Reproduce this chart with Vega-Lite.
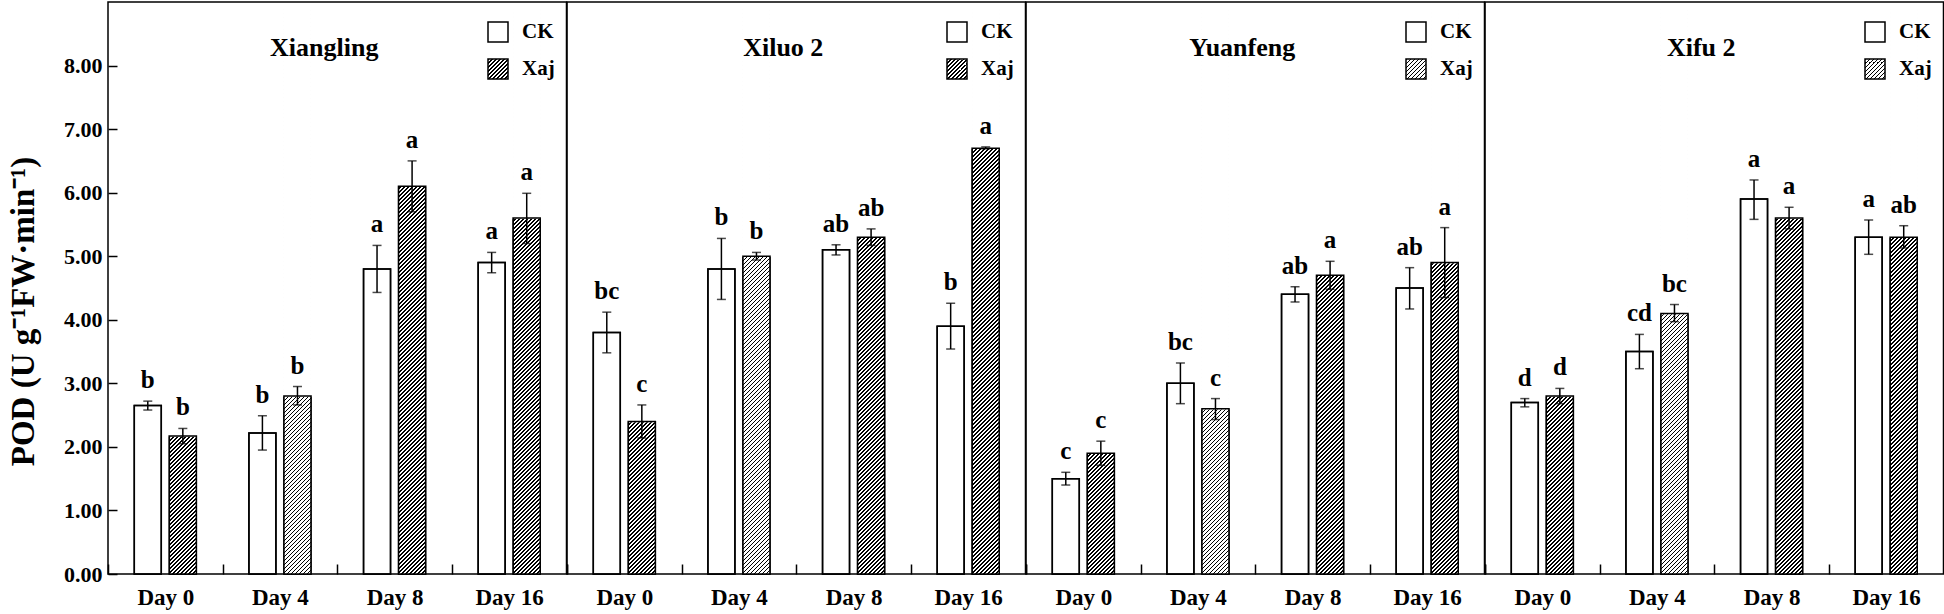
{
"$schema": "https://vega.github.io/schema/vega-lite/v6.json",
"background": "white",
"padding": {"left": 6, "top": 1, "right": 0, "bottom": 0},
"params": [
{"name": "hatchLeg", "value": {"gradient": "linear", "x1": 0, "y1": 0, "x2": 1, "y2": 1, "stops": [{"offset":0,"color":"#000"},{"offset":0.04,"color":"#000"},{"offset":0.04,"color":"#fff"},{"offset":0.1,"color":"#fff"},{"offset":0.1,"color":"#000"},{"offset":0.14,"color":"#000"},{"offset":0.14,"color":"#fff"},{"offset":0.2,"color":"#fff"},{"offset":0.2,"color":"#000"},{"offset":0.24,"color":"#000"},{"offset":0.24,"color":"#fff"},{"offset":0.3,"color":"#fff"},{"offset":0.3,"color":"#000"},{"offset":0.34,"color":"#000"},{"offset":0.34,"color":"#fff"},{"offset":0.4,"color":"#fff"},{"offset":0.4,"color":"#000"},{"offset":0.44,"color":"#000"},{"offset":0.44,"color":"#fff"},{"offset":0.5,"color":"#fff"},{"offset":0.5,"color":"#000"},{"offset":0.54,"color":"#000"},{"offset":0.54,"color":"#fff"},{"offset":0.6,"color":"#fff"},{"offset":0.6,"color":"#000"},{"offset":0.64,"color":"#000"},{"offset":0.64,"color":"#fff"},{"offset":0.7,"color":"#fff"},{"offset":0.7,"color":"#000"},{"offset":0.74,"color":"#000"},{"offset":0.74,"color":"#fff"},{"offset":0.8,"color":"#fff"},{"offset":0.8,"color":"#000"},{"offset":0.84,"color":"#000"},{"offset":0.84,"color":"#fff"},{"offset":0.9,"color":"#fff"},{"offset":0.9,"color":"#000"},{"offset":0.94,"color":"#000"},{"offset":0.94,"color":"#fff"},{"offset":1,"color":"#fff"}]}},
{"name": "hatch", "value": {"gradient": "linear", "x1": 0, "y1": 0, "x2": 0.06733, "y2": 1.4111, "stops": [
{"offset":0.00,"color":"#000"},{"offset":0.002,"color":"#000"},{"offset":0.002,"color":"#fff"},{"offset":0.005,"color":"#fff"},{"offset":0.005,"color":"#000"},{"offset":0.007,"color":"#000"},{"offset":0.007,"color":"#fff"},{"offset":0.01,"color":"#fff"},
{"offset":0.01,"color":"#000"},{"offset":0.012,"color":"#000"},{"offset":0.012,"color":"#fff"},{"offset":0.015,"color":"#fff"},{"offset":0.015,"color":"#000"},{"offset":0.017,"color":"#000"},{"offset":0.017,"color":"#fff"},{"offset":0.02,"color":"#fff"},
{"offset":0.02,"color":"#000"},{"offset":0.022,"color":"#000"},{"offset":0.022,"color":"#fff"},{"offset":0.025,"color":"#fff"},{"offset":0.025,"color":"#000"},{"offset":0.027,"color":"#000"},{"offset":0.027,"color":"#fff"},{"offset":0.03,"color":"#fff"},
{"offset":0.03,"color":"#000"},{"offset":0.032,"color":"#000"},{"offset":0.032,"color":"#fff"},{"offset":0.035,"color":"#fff"},{"offset":0.035,"color":"#000"},{"offset":0.037,"color":"#000"},{"offset":0.037,"color":"#fff"},{"offset":0.04,"color":"#fff"},
{"offset":0.04,"color":"#000"},{"offset":0.042,"color":"#000"},{"offset":0.042,"color":"#fff"},{"offset":0.045,"color":"#fff"},{"offset":0.045,"color":"#000"},{"offset":0.047,"color":"#000"},{"offset":0.047,"color":"#fff"},{"offset":0.05,"color":"#fff"},
{"offset":0.05,"color":"#000"},{"offset":0.052,"color":"#000"},{"offset":0.052,"color":"#fff"},{"offset":0.055,"color":"#fff"},{"offset":0.055,"color":"#000"},{"offset":0.057,"color":"#000"},{"offset":0.057,"color":"#fff"},{"offset":0.06,"color":"#fff"},
{"offset":0.06,"color":"#000"},{"offset":0.062,"color":"#000"},{"offset":0.062,"color":"#fff"},{"offset":0.065,"color":"#fff"},{"offset":0.065,"color":"#000"},{"offset":0.067,"color":"#000"},{"offset":0.067,"color":"#fff"},{"offset":0.07,"color":"#fff"},
{"offset":0.07,"color":"#000"},{"offset":0.072,"color":"#000"},{"offset":0.072,"color":"#fff"},{"offset":0.075,"color":"#fff"},{"offset":0.075,"color":"#000"},{"offset":0.077,"color":"#000"},{"offset":0.077,"color":"#fff"},{"offset":0.08,"color":"#fff"},
{"offset":0.08,"color":"#000"},{"offset":0.082,"color":"#000"},{"offset":0.082,"color":"#fff"},{"offset":0.085,"color":"#fff"},{"offset":0.085,"color":"#000"},{"offset":0.087,"color":"#000"},{"offset":0.087,"color":"#fff"},{"offset":0.09,"color":"#fff"},
{"offset":0.09,"color":"#000"},{"offset":0.092,"color":"#000"},{"offset":0.092,"color":"#fff"},{"offset":0.095,"color":"#fff"},{"offset":0.095,"color":"#000"},{"offset":0.097,"color":"#000"},{"offset":0.097,"color":"#fff"},{"offset":0.10,"color":"#fff"},
{"offset":0.10,"color":"#000"},{"offset":0.102,"color":"#000"},{"offset":0.102,"color":"#fff"},{"offset":0.105,"color":"#fff"},{"offset":0.105,"color":"#000"},{"offset":0.107,"color":"#000"},{"offset":0.107,"color":"#fff"},{"offset":0.11,"color":"#fff"},
{"offset":0.11,"color":"#000"},{"offset":0.112,"color":"#000"},{"offset":0.112,"color":"#fff"},{"offset":0.115,"color":"#fff"},{"offset":0.115,"color":"#000"},{"offset":0.117,"color":"#000"},{"offset":0.117,"color":"#fff"},{"offset":0.12,"color":"#fff"},
{"offset":0.12,"color":"#000"},{"offset":0.122,"color":"#000"},{"offset":0.122,"color":"#fff"},{"offset":0.125,"color":"#fff"},{"offset":0.125,"color":"#000"},{"offset":0.127,"color":"#000"},{"offset":0.127,"color":"#fff"},{"offset":0.13,"color":"#fff"},
{"offset":0.13,"color":"#000"},{"offset":0.132,"color":"#000"},{"offset":0.132,"color":"#fff"},{"offset":0.135,"color":"#fff"},{"offset":0.135,"color":"#000"},{"offset":0.137,"color":"#000"},{"offset":0.137,"color":"#fff"},{"offset":0.14,"color":"#fff"},
{"offset":0.14,"color":"#000"},{"offset":0.142,"color":"#000"},{"offset":0.142,"color":"#fff"},{"offset":0.145,"color":"#fff"},{"offset":0.145,"color":"#000"},{"offset":0.147,"color":"#000"},{"offset":0.147,"color":"#fff"},{"offset":0.15,"color":"#fff"},
{"offset":0.15,"color":"#000"},{"offset":0.152,"color":"#000"},{"offset":0.152,"color":"#fff"},{"offset":0.155,"color":"#fff"},{"offset":0.155,"color":"#000"},{"offset":0.157,"color":"#000"},{"offset":0.157,"color":"#fff"},{"offset":0.16,"color":"#fff"},
{"offset":0.16,"color":"#000"},{"offset":0.162,"color":"#000"},{"offset":0.162,"color":"#fff"},{"offset":0.165,"color":"#fff"},{"offset":0.165,"color":"#000"},{"offset":0.167,"color":"#000"},{"offset":0.167,"color":"#fff"},{"offset":0.17,"color":"#fff"},
{"offset":0.17,"color":"#000"},{"offset":0.172,"color":"#000"},{"offset":0.172,"color":"#fff"},{"offset":0.175,"color":"#fff"},{"offset":0.175,"color":"#000"},{"offset":0.177,"color":"#000"},{"offset":0.177,"color":"#fff"},{"offset":0.18,"color":"#fff"},
{"offset":0.18,"color":"#000"},{"offset":0.182,"color":"#000"},{"offset":0.182,"color":"#fff"},{"offset":0.185,"color":"#fff"},{"offset":0.185,"color":"#000"},{"offset":0.187,"color":"#000"},{"offset":0.187,"color":"#fff"},{"offset":0.19,"color":"#fff"},
{"offset":0.19,"color":"#000"},{"offset":0.192,"color":"#000"},{"offset":0.192,"color":"#fff"},{"offset":0.195,"color":"#fff"},{"offset":0.195,"color":"#000"},{"offset":0.197,"color":"#000"},{"offset":0.197,"color":"#fff"},{"offset":0.20,"color":"#fff"},
{"offset":0.20,"color":"#000"},{"offset":0.202,"color":"#000"},{"offset":0.202,"color":"#fff"},{"offset":0.205,"color":"#fff"},{"offset":0.205,"color":"#000"},{"offset":0.207,"color":"#000"},{"offset":0.207,"color":"#fff"},{"offset":0.21,"color":"#fff"},
{"offset":0.21,"color":"#000"},{"offset":0.212,"color":"#000"},{"offset":0.212,"color":"#fff"},{"offset":0.215,"color":"#fff"},{"offset":0.215,"color":"#000"},{"offset":0.217,"color":"#000"},{"offset":0.217,"color":"#fff"},{"offset":0.22,"color":"#fff"},
{"offset":0.22,"color":"#000"},{"offset":0.222,"color":"#000"},{"offset":0.222,"color":"#fff"},{"offset":0.225,"color":"#fff"},{"offset":0.225,"color":"#000"},{"offset":0.227,"color":"#000"},{"offset":0.227,"color":"#fff"},{"offset":0.23,"color":"#fff"},
{"offset":0.23,"color":"#000"},{"offset":0.232,"color":"#000"},{"offset":0.232,"color":"#fff"},{"offset":0.235,"color":"#fff"},{"offset":0.235,"color":"#000"},{"offset":0.237,"color":"#000"},{"offset":0.237,"color":"#fff"},{"offset":0.24,"color":"#fff"},
{"offset":0.24,"color":"#000"},{"offset":0.242,"color":"#000"},{"offset":0.242,"color":"#fff"},{"offset":0.245,"color":"#fff"},{"offset":0.245,"color":"#000"},{"offset":0.247,"color":"#000"},{"offset":0.247,"color":"#fff"},{"offset":0.25,"color":"#fff"},
{"offset":0.25,"color":"#000"},{"offset":0.252,"color":"#000"},{"offset":0.252,"color":"#fff"},{"offset":0.255,"color":"#fff"},{"offset":0.255,"color":"#000"},{"offset":0.257,"color":"#000"},{"offset":0.257,"color":"#fff"},{"offset":0.26,"color":"#fff"},
{"offset":0.26,"color":"#000"},{"offset":0.262,"color":"#000"},{"offset":0.262,"color":"#fff"},{"offset":0.265,"color":"#fff"},{"offset":0.265,"color":"#000"},{"offset":0.267,"color":"#000"},{"offset":0.267,"color":"#fff"},{"offset":0.27,"color":"#fff"},
{"offset":0.27,"color":"#000"},{"offset":0.272,"color":"#000"},{"offset":0.272,"color":"#fff"},{"offset":0.275,"color":"#fff"},{"offset":0.275,"color":"#000"},{"offset":0.277,"color":"#000"},{"offset":0.277,"color":"#fff"},{"offset":0.28,"color":"#fff"},
{"offset":0.28,"color":"#000"},{"offset":0.282,"color":"#000"},{"offset":0.282,"color":"#fff"},{"offset":0.285,"color":"#fff"},{"offset":0.285,"color":"#000"},{"offset":0.287,"color":"#000"},{"offset":0.287,"color":"#fff"},{"offset":0.29,"color":"#fff"},
{"offset":0.29,"color":"#000"},{"offset":0.292,"color":"#000"},{"offset":0.292,"color":"#fff"},{"offset":0.295,"color":"#fff"},{"offset":0.295,"color":"#000"},{"offset":0.297,"color":"#000"},{"offset":0.297,"color":"#fff"},{"offset":0.30,"color":"#fff"},
{"offset":0.30,"color":"#000"},{"offset":0.302,"color":"#000"},{"offset":0.302,"color":"#fff"},{"offset":0.305,"color":"#fff"},{"offset":0.305,"color":"#000"},{"offset":0.307,"color":"#000"},{"offset":0.307,"color":"#fff"},{"offset":0.31,"color":"#fff"},
{"offset":0.31,"color":"#000"},{"offset":0.312,"color":"#000"},{"offset":0.312,"color":"#fff"},{"offset":0.315,"color":"#fff"},{"offset":0.315,"color":"#000"},{"offset":0.317,"color":"#000"},{"offset":0.317,"color":"#fff"},{"offset":0.32,"color":"#fff"},
{"offset":0.32,"color":"#000"},{"offset":0.322,"color":"#000"},{"offset":0.322,"color":"#fff"},{"offset":0.325,"color":"#fff"},{"offset":0.325,"color":"#000"},{"offset":0.327,"color":"#000"},{"offset":0.327,"color":"#fff"},{"offset":0.33,"color":"#fff"},
{"offset":0.33,"color":"#000"},{"offset":0.332,"color":"#000"},{"offset":0.332,"color":"#fff"},{"offset":0.335,"color":"#fff"},{"offset":0.335,"color":"#000"},{"offset":0.337,"color":"#000"},{"offset":0.337,"color":"#fff"},{"offset":0.34,"color":"#fff"},
{"offset":0.34,"color":"#000"},{"offset":0.342,"color":"#000"},{"offset":0.342,"color":"#fff"},{"offset":0.345,"color":"#fff"},{"offset":0.345,"color":"#000"},{"offset":0.347,"color":"#000"},{"offset":0.347,"color":"#fff"},{"offset":0.35,"color":"#fff"},
{"offset":0.35,"color":"#000"},{"offset":0.352,"color":"#000"},{"offset":0.352,"color":"#fff"},{"offset":0.355,"color":"#fff"},{"offset":0.355,"color":"#000"},{"offset":0.357,"color":"#000"},{"offset":0.357,"color":"#fff"},{"offset":0.36,"color":"#fff"},
{"offset":0.36,"color":"#000"},{"offset":0.362,"color":"#000"},{"offset":0.362,"color":"#fff"},{"offset":0.365,"color":"#fff"},{"offset":0.365,"color":"#000"},{"offset":0.367,"color":"#000"},{"offset":0.367,"color":"#fff"},{"offset":0.37,"color":"#fff"},
{"offset":0.37,"color":"#000"},{"offset":0.372,"color":"#000"},{"offset":0.372,"color":"#fff"},{"offset":0.375,"color":"#fff"},{"offset":0.375,"color":"#000"},{"offset":0.377,"color":"#000"},{"offset":0.377,"color":"#fff"},{"offset":0.38,"color":"#fff"},
{"offset":0.38,"color":"#000"},{"offset":0.382,"color":"#000"},{"offset":0.382,"color":"#fff"},{"offset":0.385,"color":"#fff"},{"offset":0.385,"color":"#000"},{"offset":0.387,"color":"#000"},{"offset":0.387,"color":"#fff"},{"offset":0.39,"color":"#fff"},
{"offset":0.39,"color":"#000"},{"offset":0.392,"color":"#000"},{"offset":0.392,"color":"#fff"},{"offset":0.395,"color":"#fff"},{"offset":0.395,"color":"#000"},{"offset":0.397,"color":"#000"},{"offset":0.397,"color":"#fff"},{"offset":0.40,"color":"#fff"},
{"offset":0.40,"color":"#000"},{"offset":0.402,"color":"#000"},{"offset":0.402,"color":"#fff"},{"offset":0.405,"color":"#fff"},{"offset":0.405,"color":"#000"},{"offset":0.407,"color":"#000"},{"offset":0.407,"color":"#fff"},{"offset":0.41,"color":"#fff"},
{"offset":0.41,"color":"#000"},{"offset":0.412,"color":"#000"},{"offset":0.412,"color":"#fff"},{"offset":0.415,"color":"#fff"},{"offset":0.415,"color":"#000"},{"offset":0.417,"color":"#000"},{"offset":0.417,"color":"#fff"},{"offset":0.42,"color":"#fff"},
{"offset":0.42,"color":"#000"},{"offset":0.422,"color":"#000"},{"offset":0.422,"color":"#fff"},{"offset":0.425,"color":"#fff"},{"offset":0.425,"color":"#000"},{"offset":0.427,"color":"#000"},{"offset":0.427,"color":"#fff"},{"offset":0.43,"color":"#fff"},
{"offset":0.43,"color":"#000"},{"offset":0.432,"color":"#000"},{"offset":0.432,"color":"#fff"},{"offset":0.435,"color":"#fff"},{"offset":0.435,"color":"#000"},{"offset":0.437,"color":"#000"},{"offset":0.437,"color":"#fff"},{"offset":0.44,"color":"#fff"},
{"offset":0.44,"color":"#000"},{"offset":0.442,"color":"#000"},{"offset":0.442,"color":"#fff"},{"offset":0.445,"color":"#fff"},{"offset":0.445,"color":"#000"},{"offset":0.447,"color":"#000"},{"offset":0.447,"color":"#fff"},{"offset":0.45,"color":"#fff"},
{"offset":0.45,"color":"#000"},{"offset":0.452,"color":"#000"},{"offset":0.452,"color":"#fff"},{"offset":0.455,"color":"#fff"},{"offset":0.455,"color":"#000"},{"offset":0.457,"color":"#000"},{"offset":0.457,"color":"#fff"},{"offset":0.46,"color":"#fff"},
{"offset":0.46,"color":"#000"},{"offset":0.462,"color":"#000"},{"offset":0.462,"color":"#fff"},{"offset":0.465,"color":"#fff"},{"offset":0.465,"color":"#000"},{"offset":0.467,"color":"#000"},{"offset":0.467,"color":"#fff"},{"offset":0.47,"color":"#fff"},
{"offset":0.47,"color":"#000"},{"offset":0.472,"color":"#000"},{"offset":0.472,"color":"#fff"},{"offset":0.475,"color":"#fff"},{"offset":0.475,"color":"#000"},{"offset":0.477,"color":"#000"},{"offset":0.477,"color":"#fff"},{"offset":0.48,"color":"#fff"},
{"offset":0.48,"color":"#000"},{"offset":0.482,"color":"#000"},{"offset":0.482,"color":"#fff"},{"offset":0.485,"color":"#fff"},{"offset":0.485,"color":"#000"},{"offset":0.487,"color":"#000"},{"offset":0.487,"color":"#fff"},{"offset":0.49,"color":"#fff"},
{"offset":0.49,"color":"#000"},{"offset":0.492,"color":"#000"},{"offset":0.492,"color":"#fff"},{"offset":0.495,"color":"#fff"},{"offset":0.495,"color":"#000"},{"offset":0.497,"color":"#000"},{"offset":0.497,"color":"#fff"},{"offset":0.50,"color":"#fff"},
{"offset":0.50,"color":"#000"},{"offset":0.502,"color":"#000"},{"offset":0.502,"color":"#fff"},{"offset":0.505,"color":"#fff"},{"offset":0.505,"color":"#000"},{"offset":0.507,"color":"#000"},{"offset":0.507,"color":"#fff"},{"offset":0.51,"color":"#fff"},
{"offset":0.51,"color":"#000"},{"offset":0.512,"color":"#000"},{"offset":0.512,"color":"#fff"},{"offset":0.515,"color":"#fff"},{"offset":0.515,"color":"#000"},{"offset":0.517,"color":"#000"},{"offset":0.517,"color":"#fff"},{"offset":0.52,"color":"#fff"},
{"offset":0.52,"color":"#000"},{"offset":0.522,"color":"#000"},{"offset":0.522,"color":"#fff"},{"offset":0.525,"color":"#fff"},{"offset":0.525,"color":"#000"},{"offset":0.527,"color":"#000"},{"offset":0.527,"color":"#fff"},{"offset":0.53,"color":"#fff"},
{"offset":0.53,"color":"#000"},{"offset":0.532,"color":"#000"},{"offset":0.532,"color":"#fff"},{"offset":0.535,"color":"#fff"},{"offset":0.535,"color":"#000"},{"offset":0.537,"color":"#000"},{"offset":0.537,"color":"#fff"},{"offset":0.54,"color":"#fff"},
{"offset":0.54,"color":"#000"},{"offset":0.542,"color":"#000"},{"offset":0.542,"color":"#fff"},{"offset":0.545,"color":"#fff"},{"offset":0.545,"color":"#000"},{"offset":0.547,"color":"#000"},{"offset":0.547,"color":"#fff"},{"offset":0.55,"color":"#fff"},
{"offset":0.55,"color":"#000"},{"offset":0.552,"color":"#000"},{"offset":0.552,"color":"#fff"},{"offset":0.555,"color":"#fff"},{"offset":0.555,"color":"#000"},{"offset":0.557,"color":"#000"},{"offset":0.557,"color":"#fff"},{"offset":0.56,"color":"#fff"},
{"offset":0.56,"color":"#000"},{"offset":0.562,"color":"#000"},{"offset":0.562,"color":"#fff"},{"offset":0.565,"color":"#fff"},{"offset":0.565,"color":"#000"},{"offset":0.567,"color":"#000"},{"offset":0.567,"color":"#fff"},{"offset":0.57,"color":"#fff"},
{"offset":0.57,"color":"#000"},{"offset":0.572,"color":"#000"},{"offset":0.572,"color":"#fff"},{"offset":0.575,"color":"#fff"},{"offset":0.575,"color":"#000"},{"offset":0.577,"color":"#000"},{"offset":0.577,"color":"#fff"},{"offset":0.58,"color":"#fff"},
{"offset":0.58,"color":"#000"},{"offset":0.582,"color":"#000"},{"offset":0.582,"color":"#fff"},{"offset":0.585,"color":"#fff"},{"offset":0.585,"color":"#000"},{"offset":0.587,"color":"#000"},{"offset":0.587,"color":"#fff"},{"offset":0.59,"color":"#fff"},
{"offset":0.59,"color":"#000"},{"offset":0.592,"color":"#000"},{"offset":0.592,"color":"#fff"},{"offset":0.595,"color":"#fff"},{"offset":0.595,"color":"#000"},{"offset":0.597,"color":"#000"},{"offset":0.597,"color":"#fff"},{"offset":0.60,"color":"#fff"},
{"offset":0.60,"color":"#000"},{"offset":0.602,"color":"#000"},{"offset":0.602,"color":"#fff"},{"offset":0.605,"color":"#fff"},{"offset":0.605,"color":"#000"},{"offset":0.607,"color":"#000"},{"offset":0.607,"color":"#fff"},{"offset":0.61,"color":"#fff"},
{"offset":0.61,"color":"#000"},{"offset":0.612,"color":"#000"},{"offset":0.612,"color":"#fff"},{"offset":0.615,"color":"#fff"},{"offset":0.615,"color":"#000"},{"offset":0.617,"color":"#000"},{"offset":0.617,"color":"#fff"},{"offset":0.62,"color":"#fff"},
{"offset":0.62,"color":"#000"},{"offset":0.622,"color":"#000"},{"offset":0.622,"color":"#fff"},{"offset":0.625,"color":"#fff"},{"offset":0.625,"color":"#000"},{"offset":0.627,"color":"#000"},{"offset":0.627,"color":"#fff"},{"offset":0.63,"color":"#fff"},
{"offset":0.63,"color":"#000"},{"offset":0.632,"color":"#000"},{"offset":0.632,"color":"#fff"},{"offset":0.635,"color":"#fff"},{"offset":0.635,"color":"#000"},{"offset":0.637,"color":"#000"},{"offset":0.637,"color":"#fff"},{"offset":0.64,"color":"#fff"},
{"offset":0.64,"color":"#000"},{"offset":0.642,"color":"#000"},{"offset":0.642,"color":"#fff"},{"offset":0.645,"color":"#fff"},{"offset":0.645,"color":"#000"},{"offset":0.647,"color":"#000"},{"offset":0.647,"color":"#fff"},{"offset":0.65,"color":"#fff"},
{"offset":0.65,"color":"#000"},{"offset":0.652,"color":"#000"},{"offset":0.652,"color":"#fff"},{"offset":0.655,"color":"#fff"},{"offset":0.655,"color":"#000"},{"offset":0.657,"color":"#000"},{"offset":0.657,"color":"#fff"},{"offset":0.66,"color":"#fff"},
{"offset":0.66,"color":"#000"},{"offset":0.662,"color":"#000"},{"offset":0.662,"color":"#fff"},{"offset":0.665,"color":"#fff"},{"offset":0.665,"color":"#000"},{"offset":0.667,"color":"#000"},{"offset":0.667,"color":"#fff"},{"offset":0.67,"color":"#fff"},
{"offset":0.67,"color":"#000"},{"offset":0.672,"color":"#000"},{"offset":0.672,"color":"#fff"},{"offset":0.675,"color":"#fff"},{"offset":0.675,"color":"#000"},{"offset":0.677,"color":"#000"},{"offset":0.677,"color":"#fff"},{"offset":0.68,"color":"#fff"},
{"offset":0.68,"color":"#000"},{"offset":0.682,"color":"#000"},{"offset":0.682,"color":"#fff"},{"offset":0.685,"color":"#fff"},{"offset":0.685,"color":"#000"},{"offset":0.687,"color":"#000"},{"offset":0.687,"color":"#fff"},{"offset":0.69,"color":"#fff"},
{"offset":0.69,"color":"#000"},{"offset":0.692,"color":"#000"},{"offset":0.692,"color":"#fff"},{"offset":0.695,"color":"#fff"},{"offset":0.695,"color":"#000"},{"offset":0.697,"color":"#000"},{"offset":0.697,"color":"#fff"},{"offset":0.70,"color":"#fff"},
{"offset":0.70,"color":"#000"},{"offset":0.702,"color":"#000"},{"offset":0.702,"color":"#fff"},{"offset":0.705,"color":"#fff"},{"offset":0.705,"color":"#000"},{"offset":0.707,"color":"#000"},{"offset":0.707,"color":"#fff"},{"offset":0.71,"color":"#fff"},
{"offset":0.71,"color":"#000"},{"offset":0.712,"color":"#000"},{"offset":0.712,"color":"#fff"},{"offset":0.715,"color":"#fff"},{"offset":0.715,"color":"#000"},{"offset":0.717,"color":"#000"},{"offset":0.717,"color":"#fff"},{"offset":0.72,"color":"#fff"},
{"offset":0.72,"color":"#000"},{"offset":0.722,"color":"#000"},{"offset":0.722,"color":"#fff"},{"offset":0.725,"color":"#fff"},{"offset":0.725,"color":"#000"},{"offset":0.727,"color":"#000"},{"offset":0.727,"color":"#fff"},{"offset":0.73,"color":"#fff"},
{"offset":0.73,"color":"#000"},{"offset":0.732,"color":"#000"},{"offset":0.732,"color":"#fff"},{"offset":0.735,"color":"#fff"},{"offset":0.735,"color":"#000"},{"offset":0.737,"color":"#000"},{"offset":0.737,"color":"#fff"},{"offset":0.74,"color":"#fff"},
{"offset":0.74,"color":"#000"},{"offset":0.742,"color":"#000"},{"offset":0.742,"color":"#fff"},{"offset":0.745,"color":"#fff"},{"offset":0.745,"color":"#000"},{"offset":0.747,"color":"#000"},{"offset":0.747,"color":"#fff"},{"offset":0.75,"color":"#fff"}
]}}
],
"data": {"values": [
{"c":"Xiangling","d":"Day 0","t":"CK","v":2.65,"lo":2.58,"hi":2.72,"l":"b"},
{"c":"Xiangling","d":"Day 0","t":"Xaj","v":2.17,"lo":2.05,"hi":2.29,"l":"b"},
{"c":"Xiangling","d":"Day 4","t":"CK","v":2.22,"lo":1.95,"hi":2.49,"l":"b"},
{"c":"Xiangling","d":"Day 4","t":"Xaj","v":2.80,"lo":2.66,"hi":2.95,"l":"b"},
{"c":"Xiangling","d":"Day 8","t":"CK","v":4.80,"lo":4.43,"hi":5.17,"l":"a"},
{"c":"Xiangling","d":"Day 8","t":"Xaj","v":6.10,"lo":5.70,"hi":6.50,"l":"a"},
{"c":"Xiangling","d":"Day 16","t":"CK","v":4.90,"lo":4.74,"hi":5.06,"l":"a"},
{"c":"Xiangling","d":"Day 16","t":"Xaj","v":5.60,"lo":5.20,"hi":5.99,"l":"a"},
{"c":"Xiluo 2","d":"Day 0","t":"CK","v":3.80,"lo":3.48,"hi":4.12,"l":"bc"},
{"c":"Xiluo 2","d":"Day 0","t":"Xaj","v":2.40,"lo":2.14,"hi":2.66,"l":"c"},
{"c":"Xiluo 2","d":"Day 4","t":"CK","v":4.80,"lo":4.32,"hi":5.28,"l":"b"},
{"c":"Xiluo 2","d":"Day 4","t":"Xaj","v":5.00,"lo":4.94,"hi":5.06,"l":"b"},
{"c":"Xiluo 2","d":"Day 8","t":"CK","v":5.10,"lo":5.02,"hi":5.18,"l":"ab"},
{"c":"Xiluo 2","d":"Day 8","t":"Xaj","v":5.30,"lo":5.17,"hi":5.43,"l":"ab"},
{"c":"Xiluo 2","d":"Day 16","t":"CK","v":3.90,"lo":3.54,"hi":4.26,"l":"b"},
{"c":"Xiluo 2","d":"Day 16","t":"Xaj","v":6.70,"lo":6.69,"hi":6.72,"l":"a"},
{"c":"Yuanfeng","d":"Day 0","t":"CK","v":1.50,"lo":1.40,"hi":1.60,"l":"c"},
{"c":"Yuanfeng","d":"Day 0","t":"Xaj","v":1.90,"lo":1.71,"hi":2.09,"l":"c"},
{"c":"Yuanfeng","d":"Day 4","t":"CK","v":3.00,"lo":2.68,"hi":3.32,"l":"bc"},
{"c":"Yuanfeng","d":"Day 4","t":"Xaj","v":2.60,"lo":2.43,"hi":2.76,"l":"c"},
{"c":"Yuanfeng","d":"Day 8","t":"CK","v":4.40,"lo":4.28,"hi":4.52,"l":"ab"},
{"c":"Yuanfeng","d":"Day 8","t":"Xaj","v":4.70,"lo":4.48,"hi":4.92,"l":"a"},
{"c":"Yuanfeng","d":"Day 16","t":"CK","v":4.50,"lo":4.17,"hi":4.82,"l":"ab"},
{"c":"Yuanfeng","d":"Day 16","t":"Xaj","v":4.90,"lo":4.35,"hi":5.45,"l":"a"},
{"c":"Xifu 2","d":"Day 0","t":"CK","v":2.70,"lo":2.63,"hi":2.76,"l":"d"},
{"c":"Xifu 2","d":"Day 0","t":"Xaj","v":2.80,"lo":2.68,"hi":2.92,"l":"d"},
{"c":"Xifu 2","d":"Day 4","t":"CK","v":3.50,"lo":3.23,"hi":3.77,"l":"cd"},
{"c":"Xifu 2","d":"Day 4","t":"Xaj","v":4.10,"lo":3.97,"hi":4.24,"l":"bc"},
{"c":"Xifu 2","d":"Day 8","t":"CK","v":5.90,"lo":5.58,"hi":6.20,"l":"a"},
{"c":"Xifu 2","d":"Day 8","t":"Xaj","v":5.60,"lo":5.43,"hi":5.77,"l":"a"},
{"c":"Xifu 2","d":"Day 16","t":"CK","v":5.30,"lo":5.03,"hi":5.57,"l":"a"},
{"c":"Xifu 2","d":"Day 16","t":"Xaj","v":5.30,"lo":5.13,"hi":5.48,"l":"ab"}
]},
"spacing": 0,
"bounds": "flush",
"resolve": {"scale": {"x": "independent", "xOffset": "independent", "y": "independent", "fill": "independent"}, "legend": {"fill": "independent"}, "axis": {"x": "independent", "y": "independent"}},
"hconcat": [
{
"width": 458.5, "height": 572,
"transform": [{"filter": "datum.c === 'Xiangling'"}],
"layer": [
{"mark": {"type": "bar", "stroke": "#000", "strokeWidth": 1.5},
 "encoding": {
  "x": {"field": "d", "type": "nominal", "sort": ["Day 0","Day 4","Day 8","Day 16"], "scale": {"paddingInner": 0, "paddingOuter": 0}, "axis": {"title": null}},
  "xOffset": {"field": "t", "type": "nominal", "sort": ["CK","Xaj"], "scale": {"paddingInner": 0.23, "paddingOuter": 0.75}},
  "y": {"field": "v", "type": "quantitative", "stack": null, "scale": {"domain": [0, 9], "nice": false}, "axis": {"values": [0,1,2,3,4,5,6,7,8], "format": ".2f", "title": "POD (U g⁻¹FW·min⁻¹)", "titleY": 309}},
  "fill": {"field": "t", "type": "nominal", "scale": {"domain": ["CK","Xaj"], "range": [{"expr": "'#ffffff'"}, {"expr": "hatchLeg"}]}, "legend": {"title": " "}}
 }},
{"transform": [{"filter": "datum.t === 'Xaj'"}],
 "mark": {"type": "bar", "fill": {"expr": "hatch"}, "strokeWidth": 0},
 "encoding": {
  "x": {"field": "d", "type": "nominal", "sort": ["Day 0","Day 4","Day 8","Day 16"], "axis": {"title": null}},
  "xOffset": {"field": "t", "type": "nominal", "sort": ["CK","Xaj"]},
  "y": {"datum": 0, "type": "quantitative"}, "y2": {"datum": 8.9}}},
{"transform": [{"filter": "datum.t === 'Xaj'"}],
 "mark": {"type": "bar", "fill": "#ffffff", "stroke": "#ffffff", "strokeWidth": 1.5},
 "encoding": {
  "x": {"field": "d", "type": "nominal", "sort": ["Day 0","Day 4","Day 8","Day 16"], "axis": {"title": null}},
  "xOffset": {"field": "t", "type": "nominal", "sort": ["CK","Xaj"]},
  "y": {"field": "v", "type": "quantitative"}, "y2": {"datum": 8.9}}},
{"mark": {"type": "bar", "fill": "transparent", "stroke": "#000", "strokeWidth": 1.5},
 "encoding": {
  "x": {"field": "d", "type": "nominal", "sort": ["Day 0","Day 4","Day 8","Day 16"], "axis": {"title": null}},
  "xOffset": {"field": "t", "type": "nominal", "sort": ["CK","Xaj"]},
  "y": {"field": "v", "type": "quantitative", "stack": null}}},
{"mark": {"type": "rule", "color": "#000", "strokeWidth": 1.5},
 "encoding": {
  "x": {"field": "d", "type": "nominal", "sort": ["Day 0","Day 4","Day 8","Day 16"], "axis": {"title": null}},
  "xOffset": {"field": "t", "type": "nominal", "sort": ["CK","Xaj"]},
  "y": {"field": "lo", "type": "quantitative"}, "y2": {"field": "hi"}}},
{"mark": {"type": "tick", "orient": "horizontal", "size": 9, "thickness": 1.5, "color": "#000"},
 "encoding": {
  "x": {"field": "d", "type": "nominal", "sort": ["Day 0","Day 4","Day 8","Day 16"], "axis": {"title": null}},
  "xOffset": {"field": "t", "type": "nominal", "sort": ["CK","Xaj"]},
  "y": {"field": "lo", "type": "quantitative"}}},
{"mark": {"type": "tick", "orient": "horizontal", "size": 9, "thickness": 1.5, "color": "#000"},
 "encoding": {
  "x": {"field": "d", "type": "nominal", "sort": ["Day 0","Day 4","Day 8","Day 16"], "axis": {"title": null}},
  "xOffset": {"field": "t", "type": "nominal", "sort": ["CK","Xaj"]},
  "y": {"field": "hi", "type": "quantitative"}}},
{"mark": {"type": "text", "font": "Liberation Serif", "fontWeight": "bold", "fontSize": 25, "baseline": "alphabetic", "dy": -13, "color": "#000"},
 "encoding": {
  "x": {"field": "d", "type": "nominal", "sort": ["Day 0","Day 4","Day 8","Day 16"], "axis": {"title": null}},
  "xOffset": {"field": "t", "type": "nominal", "sort": ["CK","Xaj"]},
  "y": {"field": "hi", "type": "quantitative"}, "text": {"field": "l"}}},
{"transform": [{"aggregate": [{"op": "count", "as": "n"}], "groupby": ["c"]}],
 "mark": {"type": "text", "font": "Liberation Serif", "fontWeight": "bold", "fontSize": 26, "baseline": "middle", "dx": -13, "color": "#000"},
 "encoding": {"y": {"datum": 8.28, "type": "quantitative"}, "text": {"field": "c"}}}
]
},
{
"width": 458.5, "height": 572,
"transform": [{"filter": "datum.c === 'Xiluo 2'"}],
"layer": [
{"mark": {"type": "bar", "stroke": "#000", "strokeWidth": 1.5},
 "encoding": {
  "x": {"field": "d", "type": "nominal", "sort": ["Day 0","Day 4","Day 8","Day 16"], "scale": {"paddingInner": 0, "paddingOuter": 0}, "axis": {"title": null}},
  "xOffset": {"field": "t", "type": "nominal", "sort": ["CK","Xaj"], "scale": {"paddingInner": 0.23, "paddingOuter": 0.75}},
  "y": {"field": "v", "type": "quantitative", "stack": null, "scale": {"domain": [0, 9], "nice": false}, "axis": null},
  "fill": {"field": "t", "type": "nominal", "scale": {"domain": ["CK","Xaj"], "range": [{"expr": "'#ffffff'"}, {"expr": "hatchLeg"}]}, "legend": {"title": " "}}
 }},
{"transform": [{"filter": "datum.t === 'Xaj'"}],
 "mark": {"type": "bar", "fill": {"expr": "hatch"}, "strokeWidth": 0},
 "encoding": {
  "x": {"field": "d", "type": "nominal", "sort": ["Day 0","Day 4","Day 8","Day 16"], "axis": {"title": null}},
  "xOffset": {"field": "t", "type": "nominal", "sort": ["CK","Xaj"]},
  "y": {"datum": 0, "type": "quantitative", "axis": null}, "y2": {"datum": 8.9}}},
{"transform": [{"filter": "datum.t === 'Xaj'"}],
 "mark": {"type": "bar", "fill": "#ffffff", "stroke": "#ffffff", "strokeWidth": 1.5},
 "encoding": {
  "x": {"field": "d", "type": "nominal", "sort": ["Day 0","Day 4","Day 8","Day 16"], "axis": {"title": null}},
  "xOffset": {"field": "t", "type": "nominal", "sort": ["CK","Xaj"]},
  "y": {"field": "v", "type": "quantitative", "axis": null}, "y2": {"datum": 8.9}}},
{"mark": {"type": "bar", "fill": "transparent", "stroke": "#000", "strokeWidth": 1.5},
 "encoding": {
  "x": {"field": "d", "type": "nominal", "sort": ["Day 0","Day 4","Day 8","Day 16"], "axis": {"title": null}},
  "xOffset": {"field": "t", "type": "nominal", "sort": ["CK","Xaj"]},
  "y": {"field": "v", "type": "quantitative", "stack": null, "axis": null}}},
{"mark": {"type": "rule", "color": "#000", "strokeWidth": 1.5},
 "encoding": {
  "x": {"field": "d", "type": "nominal", "sort": ["Day 0","Day 4","Day 8","Day 16"], "axis": {"title": null}},
  "xOffset": {"field": "t", "type": "nominal", "sort": ["CK","Xaj"]},
  "y": {"field": "lo", "type": "quantitative", "axis": null}, "y2": {"field": "hi"}}},
{"mark": {"type": "tick", "orient": "horizontal", "size": 9, "thickness": 1.5, "color": "#000"},
 "encoding": {
  "x": {"field": "d", "type": "nominal", "sort": ["Day 0","Day 4","Day 8","Day 16"], "axis": {"title": null}},
  "xOffset": {"field": "t", "type": "nominal", "sort": ["CK","Xaj"]},
  "y": {"field": "lo", "type": "quantitative", "axis": null}}},
{"mark": {"type": "tick", "orient": "horizontal", "size": 9, "thickness": 1.5, "color": "#000"},
 "encoding": {
  "x": {"field": "d", "type": "nominal", "sort": ["Day 0","Day 4","Day 8","Day 16"], "axis": {"title": null}},
  "xOffset": {"field": "t", "type": "nominal", "sort": ["CK","Xaj"]},
  "y": {"field": "hi", "type": "quantitative", "axis": null}}},
{"mark": {"type": "text", "font": "Liberation Serif", "fontWeight": "bold", "fontSize": 25, "baseline": "alphabetic", "dy": -13, "color": "#000"},
 "encoding": {
  "x": {"field": "d", "type": "nominal", "sort": ["Day 0","Day 4","Day 8","Day 16"], "axis": {"title": null}},
  "xOffset": {"field": "t", "type": "nominal", "sort": ["CK","Xaj"]},
  "y": {"field": "hi", "type": "quantitative", "axis": null}, "text": {"field": "l"}}},
{"transform": [{"aggregate": [{"op": "count", "as": "n"}], "groupby": ["c"]}],
 "mark": {"type": "text", "font": "Liberation Serif", "fontWeight": "bold", "fontSize": 26, "baseline": "middle", "dx": -13, "color": "#000"},
 "encoding": {"y": {"datum": 8.28, "type": "quantitative", "axis": null}, "text": {"field": "c"}}}
]
},
{
"width": 458.5, "height": 572,
"transform": [{"filter": "datum.c === 'Yuanfeng'"}],
"layer": [
{"mark": {"type": "bar", "stroke": "#000", "strokeWidth": 1.5},
 "encoding": {
  "x": {"field": "d", "type": "nominal", "sort": ["Day 0","Day 4","Day 8","Day 16"], "scale": {"paddingInner": 0, "paddingOuter": 0}, "axis": {"title": null}},
  "xOffset": {"field": "t", "type": "nominal", "sort": ["CK","Xaj"], "scale": {"paddingInner": 0.23, "paddingOuter": 0.75}},
  "y": {"field": "v", "type": "quantitative", "stack": null, "scale": {"domain": [0, 9], "nice": false}, "axis": null},
  "fill": {"field": "t", "type": "nominal", "scale": {"domain": ["CK","Xaj"], "range": [{"expr": "'#ffffff'"}, {"expr": "hatchLeg"}]}, "legend": {"title": " "}}
 }},
{"transform": [{"filter": "datum.t === 'Xaj'"}],
 "mark": {"type": "bar", "fill": {"expr": "hatch"}, "strokeWidth": 0},
 "encoding": {
  "x": {"field": "d", "type": "nominal", "sort": ["Day 0","Day 4","Day 8","Day 16"], "axis": {"title": null}},
  "xOffset": {"field": "t", "type": "nominal", "sort": ["CK","Xaj"]},
  "y": {"datum": 0, "type": "quantitative", "axis": null}, "y2": {"datum": 8.9}}},
{"transform": [{"filter": "datum.t === 'Xaj'"}],
 "mark": {"type": "bar", "fill": "#ffffff", "stroke": "#ffffff", "strokeWidth": 1.5},
 "encoding": {
  "x": {"field": "d", "type": "nominal", "sort": ["Day 0","Day 4","Day 8","Day 16"], "axis": {"title": null}},
  "xOffset": {"field": "t", "type": "nominal", "sort": ["CK","Xaj"]},
  "y": {"field": "v", "type": "quantitative", "axis": null}, "y2": {"datum": 8.9}}},
{"mark": {"type": "bar", "fill": "transparent", "stroke": "#000", "strokeWidth": 1.5},
 "encoding": {
  "x": {"field": "d", "type": "nominal", "sort": ["Day 0","Day 4","Day 8","Day 16"], "axis": {"title": null}},
  "xOffset": {"field": "t", "type": "nominal", "sort": ["CK","Xaj"]},
  "y": {"field": "v", "type": "quantitative", "stack": null, "axis": null}}},
{"mark": {"type": "rule", "color": "#000", "strokeWidth": 1.5},
 "encoding": {
  "x": {"field": "d", "type": "nominal", "sort": ["Day 0","Day 4","Day 8","Day 16"], "axis": {"title": null}},
  "xOffset": {"field": "t", "type": "nominal", "sort": ["CK","Xaj"]},
  "y": {"field": "lo", "type": "quantitative", "axis": null}, "y2": {"field": "hi"}}},
{"mark": {"type": "tick", "orient": "horizontal", "size": 9, "thickness": 1.5, "color": "#000"},
 "encoding": {
  "x": {"field": "d", "type": "nominal", "sort": ["Day 0","Day 4","Day 8","Day 16"], "axis": {"title": null}},
  "xOffset": {"field": "t", "type": "nominal", "sort": ["CK","Xaj"]},
  "y": {"field": "lo", "type": "quantitative", "axis": null}}},
{"mark": {"type": "tick", "orient": "horizontal", "size": 9, "thickness": 1.5, "color": "#000"},
 "encoding": {
  "x": {"field": "d", "type": "nominal", "sort": ["Day 0","Day 4","Day 8","Day 16"], "axis": {"title": null}},
  "xOffset": {"field": "t", "type": "nominal", "sort": ["CK","Xaj"]},
  "y": {"field": "hi", "type": "quantitative", "axis": null}}},
{"mark": {"type": "text", "font": "Liberation Serif", "fontWeight": "bold", "fontSize": 25, "baseline": "alphabetic", "dy": -13, "color": "#000"},
 "encoding": {
  "x": {"field": "d", "type": "nominal", "sort": ["Day 0","Day 4","Day 8","Day 16"], "axis": {"title": null}},
  "xOffset": {"field": "t", "type": "nominal", "sort": ["CK","Xaj"]},
  "y": {"field": "hi", "type": "quantitative", "axis": null}, "text": {"field": "l"}}},
{"transform": [{"aggregate": [{"op": "count", "as": "n"}], "groupby": ["c"]}],
 "mark": {"type": "text", "font": "Liberation Serif", "fontWeight": "bold", "fontSize": 26, "baseline": "middle", "dx": -13, "color": "#000"},
 "encoding": {"y": {"datum": 8.28, "type": "quantitative", "axis": null}, "text": {"field": "c"}}}
]
},
{
"width": 458.5, "height": 572,
"transform": [{"filter": "datum.c === 'Xifu 2'"}],
"layer": [
{"mark": {"type": "bar", "stroke": "#000", "strokeWidth": 1.5},
 "encoding": {
  "x": {"field": "d", "type": "nominal", "sort": ["Day 0","Day 4","Day 8","Day 16"], "scale": {"paddingInner": 0, "paddingOuter": 0}, "axis": {"title": null}},
  "xOffset": {"field": "t", "type": "nominal", "sort": ["CK","Xaj"], "scale": {"paddingInner": 0.23, "paddingOuter": 0.75}},
  "y": {"field": "v", "type": "quantitative", "stack": null, "scale": {"domain": [0, 9], "nice": false}, "axis": null},
  "fill": {"field": "t", "type": "nominal", "scale": {"domain": ["CK","Xaj"], "range": [{"expr": "'#ffffff'"}, {"expr": "hatchLeg"}]}, "legend": {"title": " "}}
 }},
{"transform": [{"filter": "datum.t === 'Xaj'"}],
 "mark": {"type": "bar", "fill": {"expr": "hatch"}, "strokeWidth": 0},
 "encoding": {
  "x": {"field": "d", "type": "nominal", "sort": ["Day 0","Day 4","Day 8","Day 16"], "axis": {"title": null}},
  "xOffset": {"field": "t", "type": "nominal", "sort": ["CK","Xaj"]},
  "y": {"datum": 0, "type": "quantitative", "axis": null}, "y2": {"datum": 8.9}}},
{"transform": [{"filter": "datum.t === 'Xaj'"}],
 "mark": {"type": "bar", "fill": "#ffffff", "stroke": "#ffffff", "strokeWidth": 1.5},
 "encoding": {
  "x": {"field": "d", "type": "nominal", "sort": ["Day 0","Day 4","Day 8","Day 16"], "axis": {"title": null}},
  "xOffset": {"field": "t", "type": "nominal", "sort": ["CK","Xaj"]},
  "y": {"field": "v", "type": "quantitative", "axis": null}, "y2": {"datum": 8.9}}},
{"mark": {"type": "bar", "fill": "transparent", "stroke": "#000", "strokeWidth": 1.5},
 "encoding": {
  "x": {"field": "d", "type": "nominal", "sort": ["Day 0","Day 4","Day 8","Day 16"], "axis": {"title": null}},
  "xOffset": {"field": "t", "type": "nominal", "sort": ["CK","Xaj"]},
  "y": {"field": "v", "type": "quantitative", "stack": null, "axis": null}}},
{"mark": {"type": "rule", "color": "#000", "strokeWidth": 1.5},
 "encoding": {
  "x": {"field": "d", "type": "nominal", "sort": ["Day 0","Day 4","Day 8","Day 16"], "axis": {"title": null}},
  "xOffset": {"field": "t", "type": "nominal", "sort": ["CK","Xaj"]},
  "y": {"field": "lo", "type": "quantitative", "axis": null}, "y2": {"field": "hi"}}},
{"mark": {"type": "tick", "orient": "horizontal", "size": 9, "thickness": 1.5, "color": "#000"},
 "encoding": {
  "x": {"field": "d", "type": "nominal", "sort": ["Day 0","Day 4","Day 8","Day 16"], "axis": {"title": null}},
  "xOffset": {"field": "t", "type": "nominal", "sort": ["CK","Xaj"]},
  "y": {"field": "lo", "type": "quantitative", "axis": null}}},
{"mark": {"type": "tick", "orient": "horizontal", "size": 9, "thickness": 1.5, "color": "#000"},
 "encoding": {
  "x": {"field": "d", "type": "nominal", "sort": ["Day 0","Day 4","Day 8","Day 16"], "axis": {"title": null}},
  "xOffset": {"field": "t", "type": "nominal", "sort": ["CK","Xaj"]},
  "y": {"field": "hi", "type": "quantitative", "axis": null}}},
{"mark": {"type": "text", "font": "Liberation Serif", "fontWeight": "bold", "fontSize": 25, "baseline": "alphabetic", "dy": -13, "color": "#000"},
 "encoding": {
  "x": {"field": "d", "type": "nominal", "sort": ["Day 0","Day 4","Day 8","Day 16"], "axis": {"title": null}},
  "xOffset": {"field": "t", "type": "nominal", "sort": ["CK","Xaj"]},
  "y": {"field": "hi", "type": "quantitative", "axis": null}, "text": {"field": "l"}}},
{"transform": [{"aggregate": [{"op": "count", "as": "n"}], "groupby": ["c"]}],
 "mark": {"type": "text", "font": "Liberation Serif", "fontWeight": "bold", "fontSize": 26, "baseline": "middle", "dx": -13, "color": "#000"},
 "encoding": {"y": {"datum": 8.28, "type": "quantitative", "axis": null}, "text": {"field": "c"}}}
]
}
],
"config": {
 "view": {"stroke": "#000", "strokeWidth": 1.5},
 "font": "Liberation Serif",
 "axis": {"domain": false, "grid": false, "tickColor": "#000", "tickWidth": 1.5, "labelColor": "#000", "labelFont": "Liberation Serif", "labelFontWeight": "bold", "titleColor": "#000", "titleFont": "Liberation Serif", "titleFontWeight": "bold"},
 "axisX": {"tickBand": "extent", "tickSize": -10, "labelPadding": 22, "labelAngle": 0, "labelFontSize": 23},
 "axisY": {"tickSize": -9, "labelPadding": 15, "labelFontSize": 22, "titleFontSize": 33, "titlePadding": 23},
 "legend": {"orient": "top-right", "offset": 12, "padding": 0, "symbolType": "square", "symbolSize": 400, "symbolStrokeColor": "#000", "symbolStrokeWidth": 1.5, "labelFont": "Liberation Serif", "labelFontWeight": "bold", "labelFontSize": 21, "labelColor": "#000", "labelOffset": 13, "rowPadding": 11, "titleFontSize": 2, "titlePadding": 5}
}
}
